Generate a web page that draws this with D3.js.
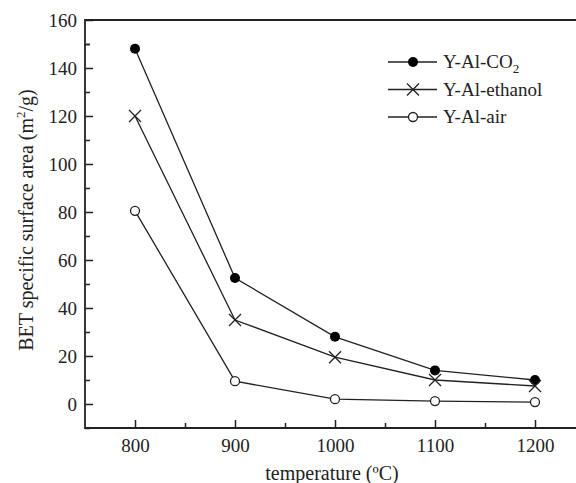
<!DOCTYPE html>
<html>
<head>
<meta charset="utf-8">
<script src="https://cdn.jsdelivr.net/npm/d3@7"></script>
<style>
  body { margin: 0; background: #fff; }
  svg { display: block; font-family: "Liberation Serif", "Times New Roman", serif; }
</style>
</head>
<body>
<svg width="576" height="483"></svg>
<script>
// Datos
const temps = [800, 900, 1000, 1100, 1200]
const co2 = [148, 52.5, 28, 14, 10]
const ethanol = [120, 35, 19.5, 10, 7.5]
const air = [80.5, 9.5, 2, 1.2, 0.8]
const seriesNames = ["Y-Al-CO2", "Y-Al-ethanol", "Y-Al-air"]
const xTicks = [800, 900, 1000, 1100, 1200]
const yTicks = [0, 20, 40, 60, 80, 100, 120, 140, 160]

// Márgenes y dimensiones
const marginLeft = 85
const marginTop = 20
const plotRight = 585
const plotBottom = 428

const xScale = d3.scaleLinear([750, 1250], [marginLeft, plotRight])
const yScale = d3.scaleLinear([-10, 160], [plotBottom, marginTop])

const svg = d3.select("svg")

// Marco (arriba e izquierda, derecha fuera de la imagen)
svg.append("path")
  .attr("d", `M${plotRight},${marginTop}H${marginLeft}V${plotBottom}H${plotRight}`)
  .attr("fill", "none")
  .attr("stroke", "#222")
  .attr("stroke-width", 1.8)

// Ejes
const xAxis = d3.axisBottom(xScale).tickValues(xTicks).tickSize(-8).tickPadding(11).tickFormat(d3.format("d"))
const gx = svg.append("g")
  .attr("transform", `translate(0, ${plotBottom})`)
  .call(xAxis)
gx.select(".domain").remove()

const xMinor = d3.axisBottom(xScale).tickValues(d3.range(800, 1250, 50).filter(v => !xTicks.includes(v))).tickSize(-5).tickFormat("")
const gxm = svg.append("g").attr("transform", `translate(0, ${plotBottom})`).call(xMinor)
gxm.select(".domain").remove()

const yAxis = d3.axisLeft(yScale).tickValues(yTicks).tickSize(-8).tickPadding(8)
const gy = svg.append("g")
  .attr("transform", `translate(${marginLeft}, 0)`)
  .call(yAxis)
gy.select(".domain").remove()

const yMinor = d3.axisLeft(yScale).tickValues(d3.range(-10, 160, 20).concat([150])).tickSize(-5).tickFormat("")
const gym = svg.append("g").attr("transform", `translate(${marginLeft}, 0)`).call(yMinor)
gym.select(".domain").remove()

svg.selectAll(".tick line").attr("stroke", "#222").attr("stroke-width", 1.5)
svg.selectAll(".tick text")
  .attr("font-size", "19px")
  .attr("font-family", "Liberation Serif, serif")
  .attr("fill", "#222")

// Títulos de ejes
svg.append("text")
  .attr("x", 332)
  .attr("y", 480)
  .attr("text-anchor", "middle")
  .attr("font-size", "20px")
  .attr("fill", "#222")
  .text("temperature (ºC)")

const yLabel = svg.append("text")
  .attr("transform", `translate(33, 220) rotate(-90)`)
  .attr("text-anchor", "middle")
  .attr("font-size", "20px")
  .attr("fill", "#222")
yLabel.append("tspan").text("BET specific surface area (m")
yLabel.append("tspan").attr("dy", -8).attr("font-size", "13px").text("2")
yLabel.append("tspan").attr("dy", 8).text("/g)")

// Líneas y marcadores
const line = d3.line().x((d, i) => xScale(temps[i])).y(d => yScale(d))
const allSeries = [co2, ethanol, air]
const markers = ["dot", "cross", "ring"]

function drawMarker(g, type, x, y) {
  if (type === "dot") {
    g.append("circle").attr("cx", x).attr("cy", y).attr("r", 5).attr("fill", "#000")
  } else if (type === "ring") {
    g.append("circle").attr("cx", x).attr("cy", y).attr("r", 4.5).attr("fill", "#fff").attr("stroke", "#222").attr("stroke-width", 1.3)
  } else {
    const s = 6
    g.append("path").attr("d", `M${x - s},${y - s}L${x + s},${y + s}M${x - s},${y + s}L${x + s},${y - s}`)
      .attr("stroke", "#222").attr("stroke-width", 1.3)
  }
}

allSeries.forEach((vals, k) => {
  svg.append("path")
    .datum(vals)
    .attr("d", line)
    .attr("fill", "none")
    .attr("stroke", "#222")
    .attr("stroke-width", 1.3)
  const g = svg.append("g")
  vals.forEach((v, i) => drawMarker(g, markers[k], xScale(temps[i]), yScale(v)))
})

// Leyenda
const legend = svg.append("g")
seriesNames.forEach((name, k) => {
  const ly = 62 + k * 27.5
  legend.append("line").attr("x1", 388).attr("x2", 437).attr("y1", ly).attr("y2", ly)
    .attr("stroke", "#222").attr("stroke-width", 1.3)
  drawMarker(legend, markers[k], 413, ly)
  const t = legend.append("text").attr("x", 443).attr("y", ly + 6).attr("font-size", "19px").attr("fill", "#222")
  if (name === "Y-Al-CO2") {
    t.append("tspan").text("Y-Al-CO")
    t.append("tspan").attr("dy", 5).attr("font-size", "13px").text("2")
  } else {
    t.text(name)
  }
})
</script>
</body>
</html>
